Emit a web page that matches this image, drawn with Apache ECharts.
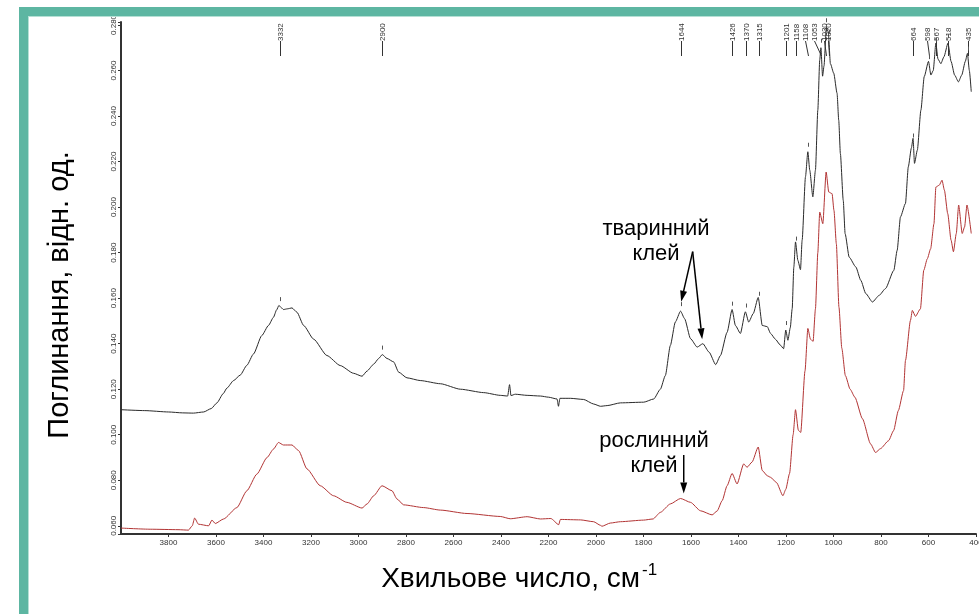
<!DOCTYPE html>
<html>
<head>
<meta charset="utf-8">
<script src="https://cdn.jsdelivr.net/npm/echarts@6/dist/echarts.min.js"></script>
<style>
html,body{margin:0;padding:0;background:#fff;}
#chart{width:979px;height:614px;}
</style>
</head>
<body>
<div id="chart"></div>
<script>
// Spectrum of animal glue (upper, black): [wavenumber cm-1, absorbance]
const animalGlue = [
[4000,0.1110],[3900,0.1106],[3800,0.1100],[3740,0.1096],[3695,0.1095],[3652,0.1100],[3620,0.1115],
[3596,0.1140],[3570,0.1180],[3554,0.1205],[3526,0.1238],[3498,0.1262],[3470,0.1305],[3442,0.1355],
[3407,0.1436],[3379,0.1480],[3358,0.1516],[3345,0.1548],[3335,0.1568],[3325,0.1558],[3316,0.1550],
[3300,0.1553],[3280,0.1557],[3259,0.1538],[3231,0.1480],[3189,0.1420],[3133,0.1348],[3077,0.1304],
[3021,0.1270],[2985,0.1257],[2964,0.1280],[2936,0.1310],[2915,0.1335],[2900,0.1352],[2880,0.1335],
[2852,0.1320],[2831,0.1275],[2796,0.1250],[2740,0.1238],[2655,0.1224],[2571,0.1200],[2473,0.1185],
[2403,0.1173],[2372,0.1170],[2364,0.1220],[2358,0.1172],[2340,0.1178],[2290,0.1173],[2234,0.1170],
[2200,0.1165],[2164,0.1157],[2158,0.1125],[2152,0.1160],[2108,0.1160],[2052,0.1155],[2010,0.1135],
[1981,0.1125],[1953,0.1128],[1897,0.1140],[1799,0.1143],[1757,0.1157],[1729,0.1200],[1708,0.1260],
[1687,0.1392],[1666,0.1495],[1644,0.1543],[1627,0.1510],[1602,0.1422],[1574,0.1385],[1550,0.1400],
[1524,0.1363],[1496,0.1308],[1476,0.1348],[1448,0.1450],[1427,0.1550],[1413,0.1480],[1392,0.1445],
[1371,0.1540],[1357,0.1495],[1338,0.1532],[1317,0.1603],[1300,0.1480],[1279,0.1475],[1265,0.1445],
[1245,0.1420],[1225,0.1395],[1210,0.1378],[1201,0.1460],[1192,0.1415],[1182,0.1470],[1174,0.1553],
[1167,0.1737],[1160,0.1847],[1150,0.1766],[1139,0.1725],[1132,0.1855],[1118,0.2133],[1108,0.2243],
[1100,0.2162],[1087,0.2045],[1076,0.2162],[1066,0.2426],[1058,0.2646],[1053,0.2700],[1046,0.2575],
[1040,0.2620],[1030,0.2790],[1022,0.2770],[1013,0.2630],[999,0.2588],[985,0.2500],[978,0.2382],
[971,0.2235],[959,0.2030],[951,0.1883],[934,0.1780],[906,0.1737],[885,0.1678],[864,0.1620],
[836,0.1583],[808,0.1612],[781,0.1642],[746,0.1722],[732,0.1810],[718,0.1957],[697,0.2016],
[685,0.2177],[672,0.2260],[665,0.2302],[659,0.2192],[647,0.2250],[632,0.2426],[618,0.2573],
[600,0.2640],[590,0.2580],[580,0.2600],[569,0.2720],[560,0.2650],[548,0.2630],[535,0.2660],
[518,0.2720],[505,0.2640],[490,0.2580],[474,0.2550],[460,0.2580],[445,0.2640],[436,0.2675],
[428,0.2600],[420,0.2507]
];
// Spectrum of plant glue (lower, red)
const plantGlue = [
[4000,0.0590],[3877,0.0585],[3760,0.0583],[3716,0.0581],[3700,0.0600],[3690,0.0634],[3674,0.0607],
[3631,0.0600],[3617,0.0625],[3603,0.0610],[3568,0.0630],[3512,0.0680],[3470,0.0754],[3428,0.0827],
[3385,0.0900],[3358,0.0937],[3337,0.0966],[3316,0.0955],[3280,0.0955],[3252,0.0930],[3217,0.0850],
[3161,0.0776],[3105,0.0732],[3049,0.0703],[2985,0.0678],[2964,0.0696],[2936,0.0732],[2901,0.0776],
[2859,0.0754],[2838,0.0718],[2810,0.0692],[2726,0.0680],[2655,0.0669],[2543,0.0654],[2403,0.0641],
[2361,0.0631],[2290,0.0640],[2234,0.0630],[2190,0.0632],[2157,0.0605],[2150,0.0628],[2066,0.0626],
[2010,0.0618],[1981,0.0602],[1975,0.0598],[1940,0.0612],[1897,0.0618],[1800,0.0625],[1760,0.0630],
[1729,0.0659],[1687,0.0696],[1644,0.0720],[1602,0.0703],[1560,0.0666],[1511,0.0648],[1490,0.0665],
[1469,0.0710],[1448,0.0776],[1427,0.0830],[1406,0.0784],[1378,0.0872],[1364,0.0857],[1343,0.0880],
[1317,0.0946],[1300,0.0843],[1279,0.0820],[1265,0.0813],[1240,0.0790],[1213,0.0732],[1201,0.0760],
[1185,0.0830],[1170,0.1000],[1160,0.1110],[1148,0.1020],[1138,0.1010],[1120,0.1280],[1108,0.1467],
[1097,0.1420],[1086,0.1410],[1076,0.1553],[1066,0.1800],[1058,0.1978],[1045,0.1927],[1031,0.2154],
[1020,0.2066],[1006,0.2059],[998,0.1985],[988,0.1839],[977,0.1560],[965,0.1380],[950,0.1260],
[930,0.1200],[910,0.1165],[878,0.1070],[844,0.0960],[823,0.0922],[802,0.0939],[768,0.0974],
[747,0.1018],[727,0.1106],[705,0.1194],[697,0.1326],[676,0.1502],[668,0.1546],[655,0.1520],
[634,0.1553],[620,0.1722],[605,0.1773],[591,0.1817],[577,0.1927],[569,0.2088],[555,0.2096],
[543,0.2118],[533,0.2074],[519,0.1971],[505,0.1855],[495,0.1804],[483,0.1884],[473,0.2009],
[458,0.1884],[448,0.1913],[438,0.2009],[420,0.1884]
];
// Marked peak wavenumbers (labels on top)
const peakWn = [3332,2900,1644,1426,1370,1315,1201,1158,1108,1053,1030,1020,664,598,567,518,435];
// Annotation arrows: [fromWn, fromAbs, toWn, toAbs]
const arrows = [[1593,0.1804,1641.5,0.1584],[1593,0.1804,1553,0.1419],[1630.6,0.0911,1630.6,0.0742]];
// Axis settings
const xTicksMin = 400, xTicksMax = 4000, xStep = 200;
const yMin = 0.0564, yMax = 0.2813;

// Styling: horizontal pixel shift of crowded peak labels (leader lines slant back to the peak)
const labelShift = {1108: -3, 1053: -7, 1030: -2, 1020: -1, 598: -2};

function interp(data, w) {
  for (let i = 0; i < data.length - 1; i++) {
    const a = data[i], b = data[i + 1];
    if ((w <= a[0] && w >= b[0])) {
      const t = (a[0] - w) / (a[0] - b[0]);
      return a[1] + t * (b[1] - a[1]);
    }
  }
  return data[data.length - 1][1];
}

const FONT = '"Liberation Sans", Arial, sans-serif';
const chart = echarts.init(document.getElementById('chart'), null, {renderer: 'canvas'});
const option = {
  animation: false,
  backgroundColor: '#ffffff',
  grid: {left: 121, right: 3, top: 22, bottom: 80, containLabel: false, outerBoundsMode: 'none'},
  xAxis: {
    type: 'value', inverse: true, min: xTicksMin, max: xTicksMax, interval: xStep,
    axisLine: {show: true, onZero: false, lineStyle: {color: '#333', width: 2}},
    axisTick: {show: true, length: 3, lineStyle: {color: '#333', width: 1}},
    axisLabel: {fontSize: 8, color: '#333', margin: 5, fontFamily: FONT, showMaxLabel: false, hideOverlap: false,
      formatter: v => (v === 4000 ? '' : String(v))},
    splitLine: {show: false}
  },
  yAxis: {
    type: 'value', min: yMin, max: yMax, splitNumber: 11,
    axisLine: {show: true, onZero: false, lineStyle: {color: '#333', width: 2}},
    axisTick: {show: true, length: 3, lineStyle: {color: '#333', width: 1}},
    axisLabel: {fontSize: 8, color: '#333', margin: 3, rotate: 90, fontFamily: FONT,
      formatter: v => {
        const k = v / 0.02;
        return Math.abs(k - Math.round(k)) < 1e-6 ? v.toFixed(3) : '';
      }},
    splitLine: {show: false}
  },
  series: [
    {type: 'line', data: animalGlue, showSymbol: false, symbol: 'none', smooth: 0.2, smoothMonotone: 'x',
     lineStyle: {color: '#2a2a2a', width: 1}, z: 3},
    {type: 'line', data: plantGlue, showSymbol: false, symbol: 'none', smooth: 0.2, smoothMonotone: 'x',
     lineStyle: {color: '#b23434', width: 1}, z: 3},
    {type: 'custom', data: peakWn.map(w => [w, interp(animalGlue, w)]),
     encode: {x: 0, y: 1}, clip: false, z: 4,
     renderItem: function (params, api) {
       const w = api.value(0);
       const top = api.coord([w, yMax]);
       const cur = api.coord([w, api.value(1)]);
       const x = Math.round(top[0]) + 0.5;
       const lx = x + (labelShift[w] || 0);
       const yTop = top[1];
       return {type: 'group', children: [
         {type: 'text', x: lx, y: yTop + 19, rotation: Math.PI / 2,
          style: {text: String(w), fontSize: 8, fontFamily: FONT, fill: '#333', align: 'left', verticalAlign: 'middle'}},
         {type: 'line', shape: {x1: lx, y1: yTop + 19, x2: x, y2: yTop + 34},
          style: {stroke: '#333', lineWidth: 1}},
         {type: 'line', shape: {x1: x, y1: cur[1] - 9, x2: x, y2: cur[1] - 5},
          style: {stroke: '#555', lineWidth: 1}}
       ]};
     }},
    {type: 'custom', data: arrows, encode: {x: [0, 2], y: [1, 3]}, clip: false, z: 5,
     renderItem: function (params, api) {
       const p1 = api.coord([api.value(0), api.value(1)]);
       const p2 = api.coord([api.value(2), api.value(3)]);
       const dx = p2[0] - p1[0], dy = p2[1] - p1[1];
       const len = Math.sqrt(dx * dx + dy * dy);
       const ux = dx / len, uy = dy / len;
       const hl = 11, hw = 3.5;
       const bx = p2[0] - ux * hl, by = p2[1] - uy * hl;
       return {type: 'group', children: [
         {type: 'line', shape: {x1: p1[0], y1: p1[1], x2: bx, y2: by},
          style: {stroke: '#000', lineWidth: 1.5}},
         {type: 'polygon', shape: {points: [[p2[0], p2[1]], [bx - uy * hw, by + ux * hw], [bx + uy * hw, by - ux * hw]]},
          style: {fill: '#000'}}
       ]};
     }}
  ],
  graphic: [
    {type: 'rect', shape: {x: 19, y: 7, width: 960, height: 9}, style: {fill: '#5db6a2'}, z: 10},
    {type: 'rect', shape: {x: 19, y: 7, width: 9, height: 607}, style: {fill: '#5db6a2'}, z: 10},
    {type: 'rect', shape: {x: 28, y: 16, width: 951, height: 1}, style: {fill: '#b5e0d5'}, z: 10},
    {type: 'rect', shape: {x: 28, y: 16, width: 1, height: 598}, style: {fill: '#b5e0d5'}, z: 10},
    {type: 'text', x: 60, y: 295, rotation: Math.PI / 2,
     style: {text: 'Поглинання, відн. од.', fontSize: 29, fontFamily: FONT, fill: '#000', align: 'center', verticalAlign: 'middle'}},
    {type: 'text', x: 640, y: 579,
     style: {text: 'Хвильове число, см', fontSize: 28, fontFamily: FONT, fill: '#000', align: 'right', verticalAlign: 'middle'}},
    {type: 'text', x: 642, y: 570,
     style: {text: '-1', fontSize: 17, fontFamily: FONT, fill: '#000', align: 'left', verticalAlign: 'middle'}},
    {type: 'text', x: 656, y: 241,
     style: {text: 'тваринний\nклей', fontSize: 22, lineHeight: 25, fontFamily: FONT, fill: '#000', align: 'center', verticalAlign: 'middle'}},
    {type: 'text', x: 654, y: 453,
     style: {text: 'рослинний\nклей', fontSize: 22, lineHeight: 25, fontFamily: FONT, fill: '#000', align: 'center', verticalAlign: 'middle'}}
  ]
};
chart.setOption(option);
</script>
</body>
</html>
